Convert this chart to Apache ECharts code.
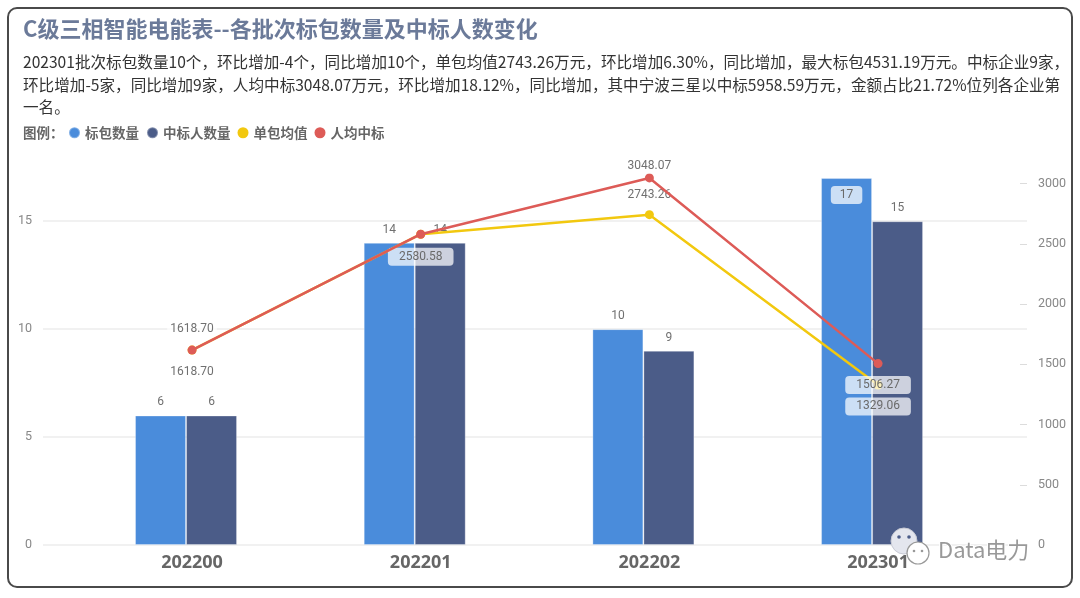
<!DOCTYPE html>
<html>
<head>
<meta charset="utf-8">
<script src="https://cdn.jsdelivr.net/npm/echarts@6/dist/echarts.min.js"></script>
<style>
html,body{margin:0;padding:0;background:#fff;}
#c{position:absolute;left:0;top:0;width:1080px;height:598px;}
#frame{position:absolute;left:7px;top:7px;width:1066px;height:581px;border:2px solid #4a4a4a;border-radius:10px;box-sizing:border-box;pointer-events:none;}
</style>
</head>
<body>
<div id="c"></div>
<div id="frame"></div>
<script>
// ---- data ----
const categories = ['202200', '202201', '202202', '202301'];
const packageCount = [6, 14, 10, 17];          // 标包数量
const winnerCount = [6, 14, 9, 15];            // 中标人数量
const avgPackageValue = [1618.70, 2580.58, 2743.26, 1329.06]; // 单包均值
const avgPerWinner = [1618.70, 2580.58, 3048.07, 1506.27];    // 人均中标
const leftTickStep = 5;
const rightTickStep = 500;
const seriesNames = ['标包数量', '中标人数量', '单包均值', '人均中标'];

const titleText = 'C级三相智能电能表--各批次标包数量及中标人数变化';
const summaryText = '202301批次标包数量10个，环比增加-4个，同比增加10个，单包均值2743.26万元，环比增加6.30%，同比增加，最大标包4531.19万元。中标企业9家，\n' +
  '环比增加-5家，同比增加9家，人均中标3048.07万元，环比增加18.12%，同比增加，其中宁波三星以中标5958.59万元，金额占比21.72%位列各企业第\n' +
  '一名。';

// ---- styling helpers ----
const CJK = '"Noto Sans CJK SC", "Noto Sans", sans-serif';
const NUM = 'Roboto, "Noto Sans", sans-serif';
const leftMax = 18.3, rightMax = 3280;
const gridTop = 150, gridBottom = 53;

const plainLbl = (pos, dist) => ({
  show: true, position: pos, distance: dist, color: '#707070', fontSize: 12, fontFamily: NUM,
  backgroundColor: 'rgba(255,255,255,0.7)', padding: [1, 3]
});
const boxLbl = (pos, dist) => ({
  show: true, position: pos, distance: dist, color: '#6a6a6a', fontSize: 12, fontFamily: NUM,
  backgroundColor: 'rgba(255,255,255,0.72)', padding: [3, 11], borderRadius: 4
});

const barLabels0 = [plainLbl('top', 6), plainLbl('top', 6), plainLbl('top', 6),
  Object.assign(boxLbl('insideTop', 8), { padding: [3, 9] })];
const barLabels1 = [plainLbl('top', 6), plainLbl('top', 6), plainLbl('top', 6), plainLbl('top', 6)];
const yellowLabels = [plainLbl('bottom', 10), boxLbl('bottom', 9), plainLbl('top', 8), boxLbl('bottom', 8)];
const redLabels = [plainLbl('top', 10), { show: false }, plainLbl('top', 0), boxLbl('bottom', 8)];

const fmt2 = p => Number(p.value).toFixed(2);

const hiddenX = gi => ({ type: 'category', gridIndex: gi, data: categories, show: false, boundaryGap: true });

const option = {
  animation: false,
  backgroundColor: '#fff',
  title: [
    { text: titleText, left: 18, top: 13, textStyle: { fontSize: 22, fontWeight: 'bold', color: '#6B7A99', fontFamily: CJK } },
    { text: summaryText, left: 18, top: 46, textStyle: { fontSize: 15.6, fontWeight: 'normal', color: '#333', fontFamily: CJK, lineHeight: 22.5 } },
    { text: '图例：', left: 18, top: 121, textStyle: { fontSize: 13.5, fontWeight: 'bold', color: '#666', fontFamily: CJK } }
  ],
  legend: {
    data: seriesNames, left: 63, top: 121, icon: 'circle', itemWidth: 11, itemHeight: 11, itemGap: 7,
    textStyle: { fontSize: 13.5, fontWeight: 'bold', color: '#666', fontFamily: CJK }
  },
  grid: [
    { left: 43, right: 53, top: gridTop, bottom: gridBottom },          // frame grid (left axis + gridlines)
    { left: 71.7, width: 914.7, top: gridTop, bottom: gridBottom },     // bars
    { left: 77.7, width: 914.7, top: gridTop, bottom: gridBottom },     // lines + category labels
    { left: 1020, width: 7, top: gridTop, bottom: gridBottom }          // right axis ticks
  ],
  xAxis: [
    hiddenX(0),
    hiddenX(1),
    {
      type: 'category', gridIndex: 2, data: categories, boundaryGap: true,
      axisLine: { show: false }, axisTick: { show: false },
      axisLabel: { fontSize: 18, fontWeight: 'bold', color: '#666', fontFamily: '"Open Sans", sans-serif', margin: 9 }
    },
    hiddenX(3)
  ],
  yAxis: [
    {
      type: 'value', gridIndex: 0, min: 0, max: leftMax, interval: leftTickStep,
      axisLine: { show: false }, axisTick: { show: false },
      axisLabel: { color: '#888', fontSize: 12.5, fontFamily: NUM, margin: 11, showMaxLabel: false },
      splitLine: { show: true, showMaxLine: false, lineStyle: { color: '#ececec', width: 1.5 } }
    },
    { type: 'value', gridIndex: 1, min: 0, max: leftMax, show: false, splitLine: { show: false } },
    { type: 'value', gridIndex: 2, min: 0, max: rightMax, show: false, splitLine: { show: false } },
    {
      type: 'value', gridIndex: 3, position: 'right', min: 0, max: rightMax, interval: rightTickStep,
      axisLine: { show: false }, axisTick: { show: false },
      axisLabel: { color: '#888', fontSize: 12.5, fontFamily: NUM, margin: 11, showMaxLabel: false, formatter: v => String(v) },
      splitLine: { show: true, showMaxLine: false, lineStyle: { color: '#dcdcdc', width: 1 } }
    }
  ],
  series: [
    {
      name: seriesNames[0], type: 'bar', xAxisIndex: 1, yAxisIndex: 1, barWidth: 51, barGap: '0%',
      itemStyle: { color: '#4A8CDB', borderColor: 'rgba(255,255,255,0.3)', borderWidth: 1 },
      data: packageCount.map((v, i) => ({ value: v, label: barLabels0[i] }))
    },
    {
      name: seriesNames[1], type: 'bar', xAxisIndex: 1, yAxisIndex: 1, barWidth: 51, barGap: '0%',
      itemStyle: { color: '#4B5C88', borderColor: 'rgba(255,255,255,0.3)', borderWidth: 1 },
      data: winnerCount.map((v, i) => ({ value: v, label: barLabels1[i] }))
    },
    {
      name: seriesNames[2], type: 'line', xAxisIndex: 2, yAxisIndex: 2, z: 3,
      symbol: 'circle', symbolSize: 9, color: '#F2C80F',
      lineStyle: { width: 2.5, color: '#F2C80F' },
      label: { formatter: fmt2 },
      data: avgPackageValue.map((v, i) => ({ value: v, label: Object.assign({ formatter: fmt2 }, yellowLabels[i]) }))
    },
    {
      name: seriesNames[3], type: 'line', xAxisIndex: 2, yAxisIndex: 2, z: 4,
      symbol: 'circle', symbolSize: 9, color: '#DD5B57',
      lineStyle: { width: 2.5, color: '#DD5B57' },
      label: { formatter: fmt2 },
      data: avgPerWinner.map((v, i) => ({ value: v, label: Object.assign({ formatter: fmt2 }, redLabels[i]) }))
    }
  ],
  graphic: [
    { type: 'circle', shape: { cx: 904, cy: 541, r: 13 }, style: { fill: '#e4e6ee', stroke: '#c8cad4', lineWidth: 1 }, z: 100 },
    { type: 'circle', shape: { cx: 899, cy: 537, r: 1.8 }, style: { fill: '#4B5C88' }, z: 101 },
    { type: 'circle', shape: { cx: 909, cy: 537, r: 1.8 }, style: { fill: '#4B5C88' }, z: 101 },
    { type: 'circle', shape: { cx: 918, cy: 553, r: 11 }, style: { fill: '#fff', stroke: '#999', lineWidth: 1.2 }, z: 102 },
    { type: 'circle', shape: { cx: 914, cy: 551, r: 1.3 }, style: { fill: '#999' }, z: 103 },
    { type: 'circle', shape: { cx: 922, cy: 551, r: 1.3 }, style: { fill: '#999' }, z: 103 },
    { type: 'text', left: 937, top: 538, z: 104,
      style: { text: 'Data电力', fill: '#999', stroke: '#fff', lineWidth: 2, font: '22px "Noto Sans CJK SC", sans-serif' } }
  ]
};

const chart = echarts.init(document.getElementById('c'), null, { renderer: 'canvas' });
chart.setOption(option);
</script>
</body>
</html>
